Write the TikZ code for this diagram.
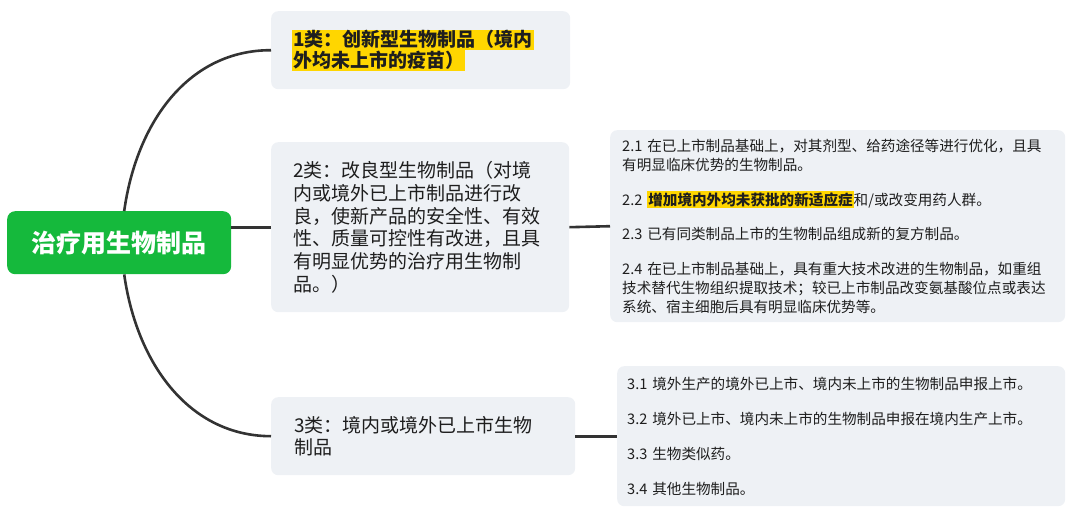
\documentclass[tikz,border=0pt]{standalone}
\usepackage{fontspec}
\setmainfont{Noto Sans CJK SC}
\definecolor{boxgray}{RGB}{238,241,245}
\definecolor{rootgreen}{RGB}{21,185,60}
\definecolor{hl}{RGB}{255,214,0}
\definecolor{linec}{RGB}{51,51,51}
\definecolor{txt}{RGB}{30,30,30}
\newcommand\hlbox[1]{{\setlength{\fboxsep}{1pt}\colorbox{hl}{#1}}}
\begin{document}
\begin{tikzpicture}[x=1pt,y=-1pt,
  panel/.style={fill=boxgray, rounded corners=7pt, draw=none, anchor=north west,
    align=left, text=txt, inner ysep=0pt},
  conn/.style={draw=linec, line width=2.6pt}]
\useasboundingbox (0,0) rectangle (1080,514);

\node[fill=rootgreen, rounded corners=8pt, anchor=north west, minimum width=224,
  minimum height=63, text=white, inner sep=0pt,
  font=\fontsize{25}{30}\selectfont\bfseries] (root) at (7,211) {治疗用生物制品};

\node[panel, minimum width=299, minimum height=78, text width=257, inner xsep=21,
  font=\fontsize{19}{21}\selectfont\bfseries] (c1) at (271,11)
  {\hlbox{1类：创新型生物制品（境内}\\\hlbox{外均未上市的疫苗）}};

\node[panel, minimum width=298, minimum height=170, text width=254, inner xsep=22,
  font=\fontsize{19}{22.7}\selectfont] (c2) at (271,142)
  {2类：改良型生物制品（对境\\
   内或境外已上市制品进行改\\
   良，使新产品的安全性、有效\\
   性、质量可控性有改进，且具\\
   有明显优势的治疗用生物制\\
   品。）};

\node[panel, minimum width=304, minimum height=78, text width=258, inner xsep=23,
  font=\fontsize{19}{23}\selectfont] (c3) at (271,397)
  {3类：境内或境外已上市生物\\制品};

\node[panel, minimum width=455, minimum height=192, text width=431, inner xsep=12,
  font=\fontsize{14.6}{19}\selectfont] (d2) at (610,130)
  {2.1 在已上市制品基础上，对其剂型、给药途径等进行优化，且具\\
   有明显临床优势的生物制品。\\[15.5pt]
   2.2 \hlbox{\bfseries 增加境内外均未获批的新适应症}和/或改变用药人群。\\[15.5pt]
   2.3 已有同类制品上市的生物制品组成新的复方制品。\\[15.5pt]
   2.4 在已上市制品基础上，具有重大技术改进的生物制品，如重组\\
   技术替代生物组织提取技术；较已上市制品改变氨基酸位点或表达\\
   系统、宿主细胞后具有明显临床优势等。};

\node[panel, minimum width=448, minimum height=140, text width=428, inner xsep=10,
  font=\fontsize{14.6}{35}\selectfont] (d3) at (617,366)
  {3.1 境外生产的境外已上市、境内未上市的生物制品申报上市。\\
   3.2 境外已上市、境内未上市的生物制品申报在境内生产上市。\\
   3.3 生物类似药。\\
   3.4 其他生物制品。};

\draw[conn] ([xshift=5pt]root.north) .. controls (137,120) and (190,50) .. (c1.west);
\draw[conn] ([xshift=5pt]root.south) .. controls (137,365) and (190,436) .. (c3.west);
\draw[conn] (root.east |- c2.west) -- (c2.west);
\draw[conn] (c2.east) -- (d2.west);
\draw[conn] (c3.east) -- (d3.west);
\end{tikzpicture}
\end{document}
